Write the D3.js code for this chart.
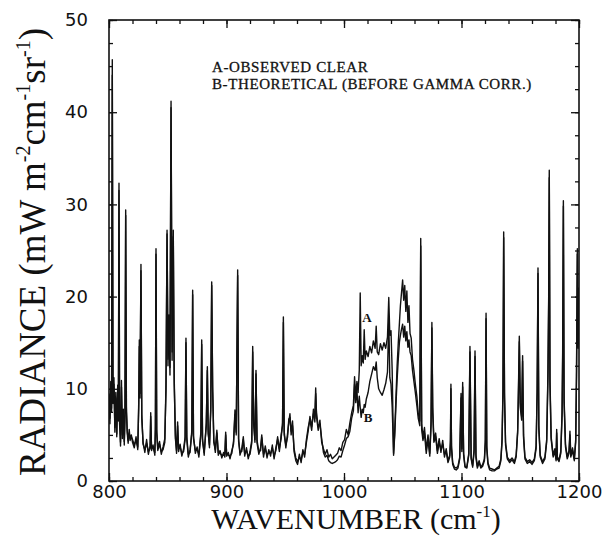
<!DOCTYPE html>
<html>
<head>
<meta charset="utf-8">
<script src="https://cdn.jsdelivr.net/npm/d3@7"></script>
<style>
  body { margin: 0; background: #fff; }
</style>
</head>
<body>
<div class="chart-container"></div>
<script>
// spectrum, shared wavenumber grid (cm-1)
const wavenumber = [
  800, 800.8, 801.5, 802.2, 802.8, 803.4, 804.2, 805, 805.8, 806.6, 807.4, 808, 808.5, 809, 809.8, 810.6, 811.4, 812.2, 813, 813.6, 814.2, 814.8, 815.5, 816.3, 817.2, 818, 819, 820,
  821.5, 823, 824.5, 825.3, 825.8, 826.4, 827.2, 827.9, 829, 830.5, 832, 833.5, 835, 835.5, 836.2, 837.5, 839, 839.5, 840, 840.6, 841.5, 843, 844.5, 846, 847.5, 848.5, 849.4, 850.2, 851, 851.9, 852.8, 853.7, 854.7, 855.5, 856.5, 857.5, 858.4, 859.2,
  860.5, 862, 863.5, 864.8, 865.5, 866.2, 867.5, 869, 870.5, 871.2, 871.9, 873.5, 875, 876.5, 878.2, 878.9, 879.6, 881, 882.8, 883.7, 884.4, 885.5, 886.6, 887.4, 888.2, 889.2, 890.5, 891.8, 893, 894.5, 896, 897.5, 898.6, 899.3, 900.1,
  901.5, 903, 904.5, 906, 907.2, 908.3, 909.5, 910.3, 911.5, 913, 914.3, 915.5, 917, 918.5, 920, 921.5, 922.3, 923.1, 924.2, 925.1, 926, 927.5, 929, 930, 931.5, 933, 934.5, 936, 937.5, 939, 940.5, 942, 943.5, 945, 946.5, 947.7, 948.4, 949.1, 950.5, 952, 953, 954, 955, 956.2, 957.5, 959,
  960.5, 962, 963.5, 965, 966.5, 968, 969.5, 971, 972.5, 974, 975.2, 975.9, 976.6, 978, 979.5, 981, 982.5, 984, 985.5, 987, 988.5, 990, 991.5, 993, 994.5, 996, 997.5, 999,
  1000.5, 1002, 1003.5, 1005, 1006.5, 1008, 1009, 1010, 1011, 1012, 1013, 1013.8, 1014.6, 1015.5, 1016.4, 1017.2, 1018, 1019, 1020.5, 1022, 1023.5, 1025, 1026.5, 1027.4, 1028.3, 1029.5, 1031, 1032.5, 1034, 1035.5, 1037, 1038.1, 1039, 1040, 1041, 1042.2, 1043.2, 1044.2,
  1045.2, 1046.2, 1047.2, 1048, 1049, 1049.9, 1050.8, 1051.7, 1052.6, 1053.5, 1054.4, 1055.3, 1056.2, 1057.2, 1058.3, 1059.5, 1060.7, 1062, 1063.2, 1064.5, 1065.3, 1066.1, 1067.2, 1068.5, 1070, 1071.5, 1073, 1074.1, 1074.8, 1075.5, 1076.5, 1078, 1079.5,
  1081, 1082.5, 1084, 1085.5, 1087, 1088.5, 1090, 1090.6, 1091, 1091.5, 1092.5, 1094, 1095.5, 1097, 1098.5, 1099.6, 1100.3, 1101, 1101.8, 1103, 1104.5, 1106.2, 1107.2, 1108.2, 1109.5, 1110.7, 1111.5, 1112.3, 1113.5, 1115, 1116.5, 1118, 1119.5, 1120.3, 1120.9, 1121.5, 1122.5, 1124, 1126, 1128, 1130,
  1132, 1133.5, 1134.5, 1135.3, 1135.9, 1136.6, 1137.5, 1139, 1141, 1143, 1145, 1146.5, 1147.8, 1148.6, 1149.2, 1150, 1151.2, 1152, 1152.8, 1154, 1156, 1158, 1160, 1162, 1163.5, 1164.4, 1165.1, 1165.8, 1167, 1169, 1171, 1172.5, 1173.6, 1174.2, 1174.7, 1175.3, 1176.3, 1178, 1179.5, 1180.5, 1181, 1181.6, 1183, 1184.5, 1185.6, 1186.1, 1186.7, 1187.3, 1188.5, 1190, 1191.5, 1192.3, 1193, 1194.5, 1196, 1197.2, 1197.9, 1198.6, 1199.3, 1200
];

// curve A - observed clear
const observedA = [
  9.5, 6.2, 10.8, 7.5, 45.7, 8.4, 11.2, 5.3, 9.6, 4.8, 10.4, 6.5, 32.3, 6.9, 3.8, 10.9, 4.6, 7.8, 3.9, 7.2, 29.4, 8.1, 5.2, 4.1, 5.6, 4.4, 5.0, 4.2,
  3.6, 4.8, 3.4, 8.5, 15.3, 9.0, 23.5, 6.8, 4.2, 3.1, 4.5, 2.9, 3.8, 7.4, 3.3, 3.9, 2.8, 6.0, 25.2, 5.2, 3.6, 4.3, 2.9, 3.7, 4.6, 9.8, 27.2, 12.5, 18.0, 11.5, 41.2, 14.0, 27.2, 10.5, 5.0, 3.0, 6.4, 3.2,
  4.0, 2.7, 3.5, 4.8, 15.5, 4.5, 2.6, 3.4, 5.2, 20.7, 4.9, 3.0, 3.7, 2.6, 5.0, 15.3, 4.3, 3.1, 6.0, 12.4, 5.5, 3.6, 8.0, 21.6, 10.2, 4.2, 3.4, 5.5, 2.8, 3.3, 2.5, 3.1, 2.6, 5.3, 2.7,
  3.1, 2.4, 3.3, 4.0, 7.7, 5.0, 22.9, 4.6, 2.8, 3.5, 4.8, 2.7, 3.6, 2.4, 3.2, 4.4, 14.6, 6.2, 4.5, 12.0, 4.1, 2.9, 3.6, 5.0, 2.6, 3.8, 2.5, 3.4, 2.7, 3.9, 2.4, 3.6, 4.5, 3.2, 5.0, 6.0, 17.8, 5.4, 3.6, 5.2, 6.3, 7.3, 5.0, 6.5, 3.2, 2.2,
  1.8, 2.9, 2.0, 3.4, 2.6, 4.5, 5.8, 6.6, 5.5, 7.8, 6.4, 10.1, 7.0, 5.5, 6.6, 4.2, 3.5, 2.9, 3.4, 2.6, 2.9, 2.4, 2.6, 2.8, 3.0, 3.6, 3.3, 4.2,
  4.5, 5.6, 5.0, 6.3, 7.4, 8.2, 11.3, 9.0, 10.8, 9.6, 12.0, 20.4, 12.5, 13.6, 12.8, 16.4, 13.2, 14.1, 13.5, 14.6, 13.9, 15.2, 14.4, 16.8, 14.0, 13.7, 14.9, 14.2, 15.0, 14.4, 15.6, 19.9, 15.8, 16.3, 12.0, 2.8, 5.5, 9.0,
  12.5, 15.0, 17.2, 19.0, 20.5, 21.8, 19.6, 21.2, 18.4, 20.6, 17.2, 19.0, 16.0, 15.5, 13.2, 12.0, 10.5, 9.2, 7.3, 6.5, 26.3, 6.2, 4.8, 5.8, 3.4, 5.0, 3.0, 6.5, 17.2, 8.0, 4.5, 5.2, 3.3,
  4.6, 3.1, 4.4, 2.6, 3.5, 2.2, 2.8, 4.5, 10.5, 3.8, 2.0, 1.5, 1.4, 1.6, 2.6, 9.5, 3.5, 10.7, 3.0, 1.6, 1.5, 3.0, 14.6, 2.6, 1.7, 3.4, 14.1, 2.8, 1.6, 2.2, 1.5, 1.8, 2.4, 4.5, 18.2, 3.8, 2.0, 1.4, 1.3, 1.2, 1.4,
  1.6, 2.4, 4.5, 10.0, 27.0, 9.5, 4.2, 2.6, 2.2, 2.5, 2.1, 2.8, 5.5, 11.0, 15.7, 8.5, 7.0, 13.6, 5.0, 2.6, 2.1, 2.3, 2.0, 2.4, 3.8, 10.0, 23.1, 6.0, 2.8, 2.1, 2.6, 4.5, 12.0, 20.0, 33.7, 11.0, 4.8, 2.8, 3.5, 2.4, 5.6, 2.6, 2.3, 3.2, 7.5, 14.0, 30.4, 9.0, 4.0, 2.6, 3.3, 5.4, 2.8, 3.6, 2.4, 4.5, 12.0, 25.2, 15.0, 21.0
];

// curve B - theoretical (before gamma corr.)
const theoreticalB = [
  9.0, 6.8, 10.1, 7.9, 44.0, 9.0, 10.5, 5.8, 9.0, 5.1, 9.8, 7.0, 31.5, 6.2, 4.2, 10.2, 5.0, 7.2, 4.3, 6.8, 28.8, 7.5, 5.5, 4.4, 5.2, 4.7, 4.8, 4.5,
  3.9, 4.4, 3.7, 8.0, 14.6, 9.5, 22.8, 7.2, 4.0, 3.4, 4.1, 3.2, 3.5, 7.0, 3.6, 3.6, 3.1, 5.6, 24.6, 5.6, 3.3, 4.0, 3.2, 3.4, 4.2, 10.5, 26.8, 13.2, 17.2, 12.3, 40.5, 13.1, 26.5, 11.2, 4.6, 3.3, 6.0, 3.5,
  3.7, 3.0, 3.2, 4.5, 15.0, 4.8, 2.9, 3.1, 5.5, 20.2, 4.6, 3.3, 3.4, 2.9, 5.3, 14.8, 4.6, 2.8, 6.3, 12.0, 5.1, 3.9, 7.6, 21.2, 9.8, 4.5, 3.1, 5.2, 3.1, 3.0, 2.8, 2.8, 2.9, 5.0, 3.0,
  2.8, 2.7, 3.0, 4.3, 7.2, 5.3, 22.3, 4.3, 3.1, 3.2, 4.5, 3.0, 3.3, 2.7, 2.9, 4.1, 14.0, 6.5, 4.2, 11.6, 4.4, 3.2, 3.3, 4.7, 2.9, 3.5, 2.8, 3.1, 3.0, 3.6, 2.7, 3.3, 4.8, 3.5, 4.6, 6.3, 17.2, 5.0, 3.9, 4.8, 6.7, 6.9, 5.4, 6.0, 3.5, 2.5,
  2.1, 2.6, 2.3, 3.1, 2.9, 4.2, 5.4, 7.0, 5.9, 7.3, 6.8, 9.5, 7.4, 5.9, 6.2, 4.6, 3.1, 2.6, 2.8, 2.2, 2.0, 1.9, 2.0, 2.1, 2.3, 2.7, 2.6, 3.3,
  3.9, 4.6, 4.8, 5.4, 6.8, 7.6, 10.5, 8.5, 9.9, 7.4, 9.2, 8.0, 6.9, 7.8, 7.4, 8.3, 8.0, 8.9, 9.6, 10.8, 11.6, 12.4, 12.0, 12.9, 11.2, 10.0, 9.6, 9.3, 9.9, 10.6, 11.8, 17.5, 11.2, 10.5, 8.0, 3.0, 5.0, 8.2,
  11.0, 13.2, 15.1, 15.8, 16.5, 17.0, 15.6, 16.8, 15.2, 16.2, 14.5, 15.3, 14.0, 13.6, 12.0, 10.8, 9.6, 8.2, 6.8, 6.0, 25.5, 5.6, 4.4, 5.2, 3.0, 4.5, 2.7, 6.0, 16.6, 7.4, 4.2, 4.8, 3.0,
  4.2, 3.4, 4.0, 2.9, 3.2, 2.0, 2.6, 4.1, 10.0, 3.5, 1.8, 1.3, 1.2, 1.4, 2.4, 9.0, 3.2, 10.2, 2.8, 1.5, 1.4, 2.8, 14.0, 2.4, 1.5, 3.1, 13.5, 2.5, 1.4, 2.0, 1.4, 1.6, 2.2, 4.2, 17.6, 3.5, 1.8, 1.2, 1.1, 1.1, 1.3,
  1.4, 2.2, 4.2, 9.5, 26.4, 9.0, 3.9, 2.4, 2.0, 2.3, 1.9, 2.6, 5.2, 10.4, 15.1, 8.0, 6.6, 13.0, 4.7, 2.4, 1.9, 2.1, 1.8, 2.2, 3.5, 9.6, 22.5, 5.6, 2.6, 1.9, 2.4, 4.2, 11.4, 19.2, 32.9, 10.4, 4.5, 2.6, 3.2, 2.2, 5.2, 2.4, 2.1, 3.0, 7.1, 13.4, 29.8, 8.5, 3.7, 2.4, 3.0, 5.0, 2.6, 3.3, 2.2, 4.2, 11.4, 24.6, 14.4, 20.4
];

const xTickValues = [800, 900, 1000, 1100, 1200];
const yTickValues = [0, 10, 20, 30, 40, 50];
const legendLines = ["A-OBSERVED CLEAR", "B-THEORETICAL (BEFORE GAMMA CORR.)"];
// curve tags, in data units
const curveTags = [
  { text: "A", wn: 1019.6, val: 17.7 },
  { text: "B", wn: 1020.4, val: 6.9 }
];

const containerWidth = 613;
const containerHeight = 540;
const margin = { top: 20, right: 34, bottom: 59, left: 109 };
const width = containerWidth - margin.left - margin.right;
const height = containerHeight - margin.top - margin.bottom;

if (wavenumber.length !== observedA.length || wavenumber.length !== theoreticalB.length) {
  console.log("length mismatch", wavenumber.length, observedA.length, theoreticalB.length);
}

var x = d3.scaleLinear().domain([800, 1200]).range([0, width]);
var y = d3.scaleLinear().domain([0, 50]).range([height, 0]);

var svg = d3
  .select(".chart-container")
  .append("svg")
  .attr("width", containerWidth)
  .attr("height", containerHeight)
  .append("g")
  .attr("transform", "translate(" + margin.left + "," + margin.top + ")");

svg
  .append("clipPath")
  .attr("id", "plot-clip")
  .append("rect")
  .attr("width", width)
  .attr("height", height);

// the two spectra
var valueline = d3
  .line()
  .x(function(d, i) {
    return x(wavenumber[i]);
  })
  .y(function(d) {
    return y(d);
  });

[theoreticalB, observedA].forEach(function(series) {
  svg
    .append("path")
    .datum(series)
    .attr("clip-path", "url(#plot-clip)")
    .attr("d", valueline)
    .style("fill", "none")
    .style("stroke", "#111")
    .style("stroke-width", "1.4px")
    .style("stroke-linejoin", "round");
});

// ticks on all four sides, pointing in
const minorX = d3.range(800, 1201, 20);
const minorY = d3.range(0, 50.1, 2.5);

function tickAxis(axis, values, size, translate) {
  var g = svg
    .append("g")
    .attr("transform", translate)
    .call(axis.tickValues(values).tickSize(-size).tickFormat(""));
  g.select(".domain").remove();
  g.selectAll("line").style("stroke", "#111").style("stroke-width", "1.3px");
  return g;
}

tickAxis(d3.axisBottom(x), minorX, 4, "translate(0," + height + ")");
tickAxis(d3.axisTop(x), minorX, 4, "translate(0,0)");
tickAxis(d3.axisLeft(y), minorY, 4, "translate(0,0)");
tickAxis(d3.axisRight(y), minorY, 4, "translate(" + width + ",0)");
tickAxis(d3.axisBottom(x), xTickValues, 8, "translate(0," + height + ")");
tickAxis(d3.axisTop(x), xTickValues, 8, "translate(0,0)");
tickAxis(d3.axisLeft(y), yTickValues, 8, "translate(0,0)");
tickAxis(d3.axisRight(y), yTickValues, 8, "translate(" + width + ",0)");

// tick labels
var xAxis = svg
  .append("g")
  .attr("class", "x-axis")
  .attr("transform", "translate(0," + height + ")")
  .call(d3.axisBottom(x).tickValues(xTickValues).tickFormat(d3.format("d")).tickSize(0).tickPadding(4));
xAxis.select(".domain").remove();
xAxis
  .selectAll("text")
  .attr("font-family", "DejaVu Sans, sans-serif")
  .attr("font-size", 18)
  .style("fill", "#111");

var yAxis = svg
  .append("g")
  .attr("class", "y-axis")
  .call(d3.axisLeft(y).tickValues(yTickValues).tickSize(0).tickPadding(21));
yAxis.select(".domain").remove();
yAxis
  .selectAll("text")
  .attr("font-family", "DejaVu Sans, sans-serif")
  .attr("font-size", 18)
  .style("fill", "#111");

// frame
svg
  .append("rect")
  .attr("width", width)
  .attr("height", height)
  .style("fill", "none")
  .style("stroke", "#111")
  .style("stroke-width", "1.6px");

// legend text
svg
  .selectAll(".legend")
  .data(legendLines)
  .enter()
  .append("text")
  .attr("class", "legend")
  .attr("x", 103)
  .attr("y", function(d, i) {
    return 52 + i * 17;
  })
  .attr("font-family", "Liberation Serif, serif")
  .attr("font-size", 15)
  .attr("letter-spacing", 0.6)
  .style("fill", "#111")
  .style("stroke", "#111")
  .style("stroke-width", "0.3px")
  .text(function(d) {
    return d;
  });

svg
  .selectAll(".tag")
  .data(curveTags)
  .enter()
  .append("text")
  .attr("class", "tag")
  .attr("x", function(d) {
    return x(d.wn);
  })
  .attr("y", function(d) {
    return y(d.val);
  })
  .attr("dy", "0.35em")
  .attr("text-anchor", "middle")
  .attr("font-family", "Liberation Serif, serif")
  .attr("font-size", 13)
  .attr("font-weight", "bold")
  .style("fill", "#111")
  .text(function(d) {
    return d.text;
  });

// axis titles
var xTitle = d3
  .select("svg")
  .append("text")
  .attr("x", 356)
  .attr("y", 529)
  .attr("text-anchor", "middle")
  .attr("font-family", "Liberation Serif, serif")
  .attr("font-size", 30)
  .style("fill", "#111");
xTitle.append("tspan").text("WAVENUMBER (cm");
xTitle.append("tspan").attr("font-size", 17).attr("dy", -12).text("-1");
xTitle.append("tspan").attr("dy", 12).text(")");

var yTitle = d3
  .select("svg")
  .append("text")
  .attr("transform", "translate(45,252) rotate(-90)")
  .attr("text-anchor", "middle")
  .attr("font-family", "Liberation Serif, serif")
  .attr("font-size", 37)
  .style("fill", "#111");
yTitle.append("tspan").text("RADIANCE  (mW m");
yTitle.append("tspan").attr("font-size", 20).attr("dy", -15).text("-2");
yTitle.append("tspan").attr("dy", 15).text("cm");
yTitle.append("tspan").attr("font-size", 20).attr("dy", -15).text("-1");
yTitle.append("tspan").attr("dy", 15).text("sr");
yTitle.append("tspan").attr("font-size", 20).attr("dy", -15).text("-1");
yTitle.append("tspan").attr("dy", 15).text(")");
</script>
</body>
</html>
